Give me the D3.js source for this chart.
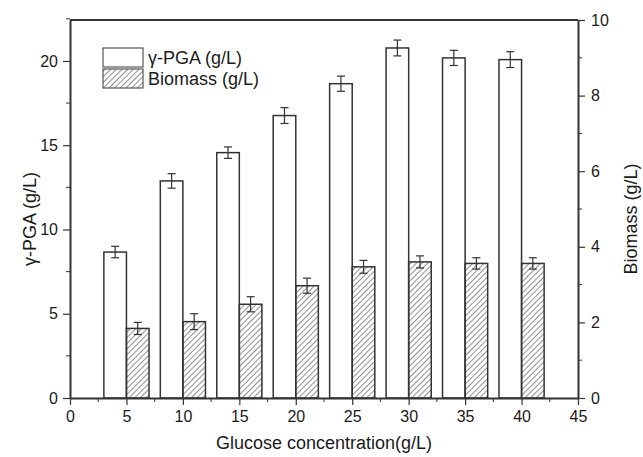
<!DOCTYPE html>
<html>
<head>
<meta charset="utf-8">
<script src="https://cdn.jsdelivr.net/npm/d3@7"></script>
<style>
  body { margin: 0; background: #fff; }
  text { font-family: "Liberation Sans", Arial, sans-serif; fill: #1a1a1a; }
</style>
</head>
<body>
<div id="chart"></div>
<script>
// glucose concentration (g/L)
const glucose = [5, 10, 15, 20, 25, 30, 35, 40]
const pga = [8.66, 12.88, 14.56, 16.76, 18.65, 20.77, 20.18, 20.08]
const pgaErr = [0.34, 0.43, 0.34, 0.47, 0.45, 0.47, 0.45, 0.47]
const biomass = [1.84, 2.02, 2.48, 2.97, 3.47, 3.6, 3.56, 3.56]
const biomassErr = [0.16, 0.21, 0.2, 0.2, 0.17, 0.16, 0.15, 0.15]
const xTicks = [0, 5, 10, 15, 20, 25, 30, 35, 40, 45]
const leftTicks = [0, 5, 10, 15, 20]
const rightTicks = [0, 2, 4, 6, 8, 10]

const width = 643, height = 457
const margin = {top: 20, right: 65, bottom: 59, left: 70}
const ink = "#333"

const svg = d3.select("#chart").append("svg")
    .attr("width", width)
    .attr("height", height)

// hatch for biomass bars
const defs = svg.append("defs")
defs.append("pattern")
    .attr("id", "hatch")
    .attr("patternUnits", "userSpaceOnUse")
    .attr("width", 4)
    .attr("height", 4)
    .attr("patternTransform", "rotate(45)")
  .append("line")
    .attr("x1", 0).attr("y1", 0)
    .attr("x2", 0).attr("y2", 4)
    .attr("stroke", "#333")
    .attr("stroke-width", 1.1)

const x = d3.scaleLinear([0, 45], [margin.left, width - margin.right])
const yL = d3.scaleLinear([0, 22.43], [height - margin.bottom, margin.top])
const yR = d3.scaleLinear([0, 10], [height - margin.bottom, margin.top])

const barW = 2 // bar width in x units

// γ-PGA bars (left of the tick)
svg.append("g").selectAll("rect")
  .data(glucose)
  .join("rect")
    .attr("x", (d) => x(d - barW))
    .attr("y", (d, i) => yL(pga[i]))
    .attr("width", x(barW) - x(0))
    .attr("height", (d, i) => yL(0) - yL(pga[i]))
    .attr("fill", "#fff")
    .attr("stroke", ink)
    .attr("stroke-width", 1.5)

// biomass bars (right of the tick)
svg.append("g").selectAll("rect")
  .data(glucose)
  .join("rect")
    .attr("x", (d) => x(d))
    .attr("y", (d, i) => yR(biomass[i]))
    .attr("width", x(barW) - x(0))
    .attr("height", (d, i) => yR(0) - yR(biomass[i]))
    .attr("fill", "url(#hatch)")
    .attr("stroke", ink)
    .attr("stroke-width", 1.5)

function errorBars(cx, vals, errs, yScale) {
    const g = svg.append("g").attr("stroke", ink).attr("stroke-width", 1.2)
    glucose.forEach((d, i) => {
        const xc = x(cx(d))
        const top = yScale(vals[i] + errs[i])
        const bot = yScale(vals[i] - errs[i])
        g.append("line").attr("x1", xc).attr("x2", xc).attr("y1", top).attr("y2", bot)
        g.append("line").attr("x1", xc - 4).attr("x2", xc + 4).attr("y1", top).attr("y2", top)
        g.append("line").attr("x1", xc - 4).attr("x2", xc + 4).attr("y1", bot).attr("y2", bot)
    })
}
errorBars(d => d - barW / 2, pga, pgaErr, yL)
errorBars(d => d + barW / 2, biomass, biomassErr, yR)

// axes
const bottomY = height - margin.bottom
const xAxis = svg.append("g")
    .attr("transform", `translate(0,${bottomY})`)
    .call(d3.axisBottom(x).tickValues(xTicks).tickSize(7).tickPadding(6).tickSizeOuter(0))
xAxis.append("g").selectAll("line")
  .data(xTicks.slice(0, -1).map(t => t + 2.5))
  .join("line")
    .attr("x1", d => x(d)).attr("x2", d => x(d))
    .attr("y1", 0).attr("y2", 4)
    .attr("stroke", ink)

const leftAxis = svg.append("g")
    .attr("transform", `translate(${margin.left},0)`)
    .call(d3.axisLeft(yL).tickValues(leftTicks).tickSize(7).tickPadding(5).tickSizeOuter(0))
leftAxis.append("g").selectAll("line")
  .data(leftTicks.map(t => t + 2.5))
  .join("line")
    .attr("x1", 0).attr("x2", -4)
    .attr("y1", d => yL(d)).attr("y2", d => yL(d))
    .attr("stroke", ink)

const rightAxis = svg.append("g")
    .attr("transform", `translate(${width - margin.right},0)`)
    .call(d3.axisRight(yR).tickValues(rightTicks).tickSize(7).tickPadding(6).tickSizeOuter(0))
rightAxis.append("g").selectAll("line")
  .data(rightTicks.slice(0, -1).map(t => t + 1))
  .join("line")
    .attr("x1", 0).attr("x2", 4)
    .attr("y1", d => yR(d)).attr("y2", d => yR(d))
    .attr("stroke", ink)

// top frame line
svg.append("line")
    .attr("x1", margin.left).attr("x2", width - margin.right)
    .attr("y1", margin.top).attr("y2", margin.top)
    .attr("stroke", ink).attr("stroke-width", 2)

svg.selectAll(".domain").attr("stroke", ink).attr("stroke-width", 2)
svg.selectAll(".tick line").attr("stroke", ink).attr("stroke-width", 1.2)
svg.selectAll(".tick text")
    .attr("font-size", 16)
    .attr("font-family", "Liberation Sans, Arial, sans-serif")
    .attr("fill", "#1a1a1a")

// axis titles
svg.append("text")
    .attr("x", (margin.left + width - margin.right) / 2)
    .attr("y", 449)
    .attr("text-anchor", "middle")
    .attr("font-size", 18)
    .text("Glucose concentration(g/L)")

svg.append("text")
    .attr("transform", `translate(36,${(margin.top + bottomY) / 2 + 10}) rotate(-90)`)
    .attr("text-anchor", "middle")
    .attr("font-size", 18)
    .text("γ-PGA (g/L)")

svg.append("text")
    .attr("transform", `translate(637,${(margin.top + bottomY) / 2 + 10}) rotate(-90)`)
    .attr("text-anchor", "middle")
    .attr("font-size", 18)
    .text("Biomass (g/L)")

// legend
const legend = [
    {label: "γ-PGA (g/L)", fill: "#fff"},
    {label: "Biomass (g/L)", fill: "url(#hatch)"}
]
const lg = svg.append("g").attr("transform", "translate(103,48)")
legend.forEach((d, i) => {
    lg.append("rect")
        .attr("x", 0).attr("y", i * 21)
        .attr("width", 40).attr("height", 19)
        .attr("fill", d.fill)
        .attr("stroke", "#555")
        .attr("stroke-width", 1.2)
    lg.append("text")
        .attr("x", 45).attr("y", i * 21 + 16)
        .attr("font-size", 18)
        .text(d.label)
})
</script>
</body>
</html>
